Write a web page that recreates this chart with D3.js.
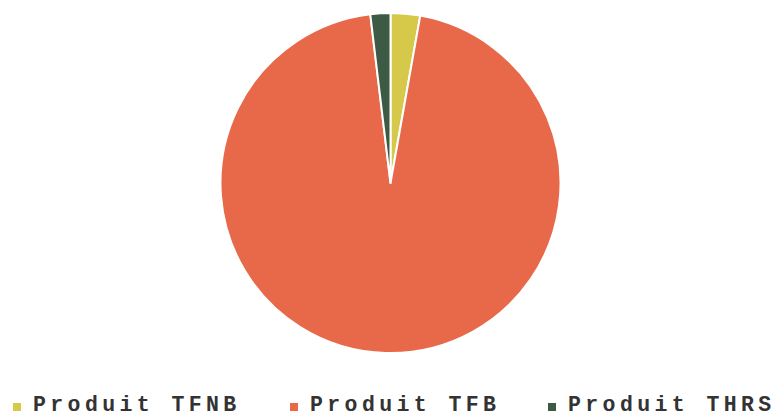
<!DOCTYPE html>
<html>
<head>
<meta charset="utf-8">
<script src="https://cdn.jsdelivr.net/npm/d3@7/dist/d3.min.js"></script>
<style>
  html, body { margin: 0; padding: 0; background: #ffffff; }
  svg { display: block; }
</style>
</head>
<body>
<svg id="chart" width="784" height="418"></svg>
<script>
// Share of each product (percent)
const categories = ["Produit TFNB", "Produit TFB", "Produit THRS"];
const values = [2.8, 95.3, 1.9];
const colors = ["#d6c94a", "#e8694a", "#3d5a45"];

const svg = d3.select("#chart");
const cx = 390.5, cy = 183, radius = 170;

const pie = d3.pie().sort(null).value(d => d.value);
const arc = d3.arc().innerRadius(0).outerRadius(radius);

const data = categories.map((c, i) => ({ name: c, value: values[i], color: colors[i] }));

svg.append("g")
  .attr("transform", `translate(${cx},${cy})`)
  .selectAll("path")
  .data(pie(data))
  .join("path")
  .attr("d", arc)
  .attr("fill", d => d.data.color)
  .attr("stroke", "#ffffff")
  .attr("stroke-width", 2)
  .attr("stroke-linejoin", "round");

// Legend along the bottom edge
const legendX = [13, 290, 548];
const legend = svg.append("g")
  .selectAll("g")
  .data(data)
  .join("g")
  .attr("transform", (d, i) => `translate(${legendX[i]},0)`);

legend.append("rect")
  .attr("x", 0).attr("y", 403)
  .attr("width", 8).attr("height", 8)
  .attr("fill", d => d.color);

legend.append("text")
  .attr("x", 20).attr("y", 411)
  .attr("font-family", "'Liberation Mono', 'Courier New', monospace")
  .attr("font-weight", "bold")
  .attr("font-size", 21.5)
  .attr("letter-spacing", "4.4px")
  .attr("fill", "#333333")
  .text(d => d.name);
</script>
</body>
</html>
